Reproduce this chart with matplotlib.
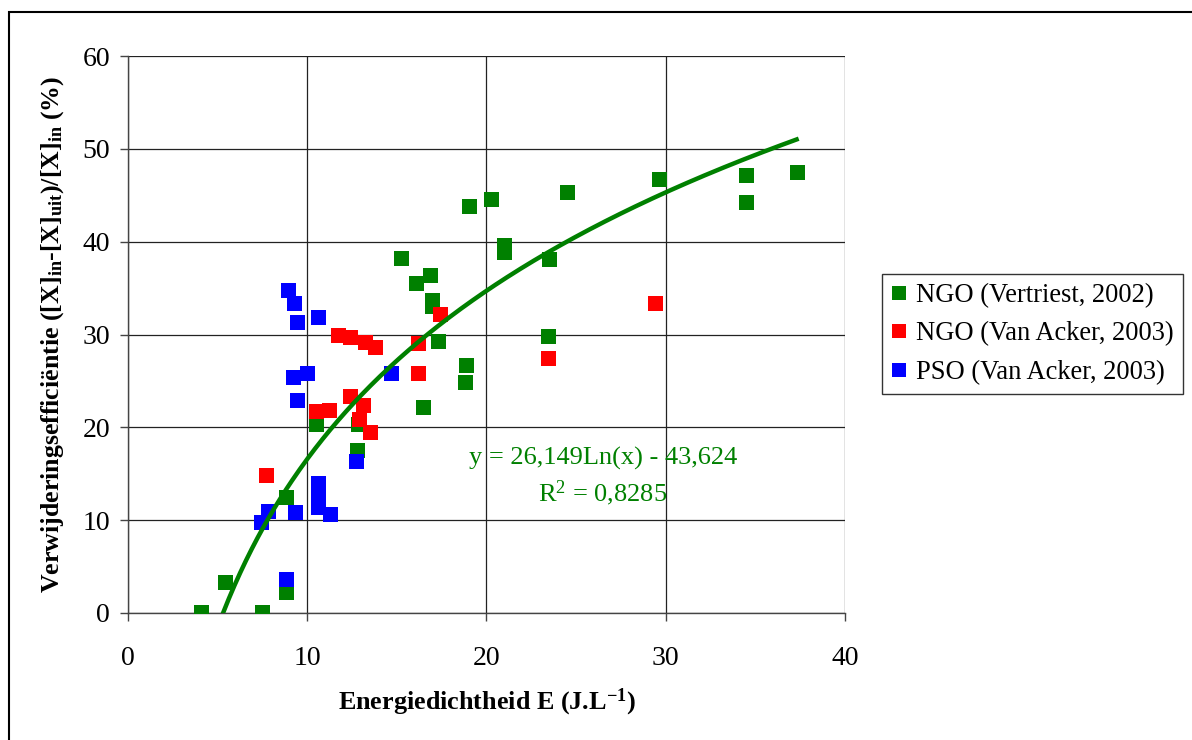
import numpy as np
import matplotlib
matplotlib.use("Agg")
import matplotlib.pyplot as plt
from matplotlib.patches import Rectangle

plt.rcParams['font.family'] = ['Liberation Serif', 'DejaVu Serif']
plt.rcParams['mathtext.fontset'] = 'custom'
plt.rcParams['mathtext.rm'] = 'Liberation Serif'
plt.rcParams['mathtext.bf'] = 'Liberation Serif:bold'
plt.rcParams['mathtext.it'] = 'Liberation Serif:italic'

# Data
green_x = [4.1, 5.4, 7.5, 8.8, 8.8, 10.5, 12.8, 12.85, 15.25, 16.05, 16.85, 16.95, 16.95, 17.3,
           16.45, 18.8, 18.85, 19.05, 20.25, 21.0, 21.0, 23.5, 23.45, 24.5, 29.6, 34.5, 34.5, 37.3]
green_y = [0.1, 3.3, 0.1, 12.5, 2.3, 20.4, 17.6, 20.4, 38.2, 35.5, 36.4, 33.7, 33.1, 29.3,
           22.2, 24.9, 26.7, 43.8, 44.6, 39.6, 38.9, 38.1, 29.8, 45.4, 46.8, 47.2, 44.3, 47.5]

red_x = [7.7, 10.5, 11.2, 11.7, 12.4, 13.2, 13.8, 12.4, 13.1, 12.9, 13.5, 16.2, 16.2, 17.4, 23.45, 29.4]
red_y = [14.9, 21.8, 21.9, 29.9, 29.7, 29.2, 28.6, 23.4, 22.4, 20.9, 19.5, 29.1, 25.9, 32.2, 27.5, 33.4]

blue_x = [8.9, 9.25, 9.45, 10.6, 9.2, 10.0, 9.45, 14.7, 12.7, 10.6, 10.6, 10.6, 10.6, 11.25, 9.3, 7.8, 7.4, 8.8]
blue_y = [34.8, 33.4, 31.3, 31.9, 25.4, 25.8, 22.9, 25.9, 16.4, 14.0, 13.2, 12.3, 11.4, 10.7, 10.9, 11.0, 9.8, 3.7]

labels = ["NGO (Vertriest, 2002)", "NGO (Van Acker, 2003)", "PSO (Van Acker, 2003)"]
colors = ["#008000", "#FF0000", "#0000FF"]

# Logarithmic trendline coefficients as shown on the chart
trend_a = 26.149
trend_b = -43.624
trend_xmin, trend_xmax = 5.3, 37.3

x_ticks = [0, 10, 20, 30, 40]
y_ticks = [0, 10, 20, 30, 40, 50, 60]

fig = plt.figure(figsize=(11.92, 7.40), dpi=100)
fig.patch.set_facecolor('white')
fig.patches.append(Rectangle((9/1192, -0.1), 1.2, (740-12)/740 + 0.1, transform=fig.transFigure,
                             fill=False, edgecolor='black', linewidth=1.5, zorder=0))

ax = fig.add_axes([128/1192, (740-613)/740, (845-128)/1192, (613-56)/740])

ms = 10.8
for xs, ys, c, lab, z in zip([green_x, red_x, blue_x], [green_y, red_y, blue_y], colors, labels, [3, 4, 5]):
    ax.plot(xs, ys, linestyle='none', marker='s', markersize=ms, color=c,
            markeredgecolor=c, markeredgewidth=0, label=lab, zorder=z)

tx = np.linspace(trend_xmin, trend_xmax, 300)
ax.plot(tx, trend_a*np.log(tx) + trend_b, color='#008000', linewidth=3.2, zorder=6)

ax.set_xlim(0, 40)
ax.set_ylim(0, 60)
ax.set_xticks(x_ticks)
ax.set_yticks(y_ticks)
ax.grid(True, color='#222222', linewidth=0.9)
ax.set_axisbelow(True)
for s in ['top', 'right']:
    ax.spines[s].set_visible(False)
for s in ['left', 'bottom']:
    ax.spines[s].set_color('#444444')
    ax.spines[s].set_linewidth(1.0)
ax.tick_params(axis='both', labelsize=20, direction='out', length=6, width=1, color='#444444')
ax.tick_params(axis='x', pad=18)
ax.tick_params(axis='y', pad=7)

ax.set_xlabel(r"Energiedichtheid E (J.L$^{\mathbf{-1}}$)", fontsize=18.8, fontweight='bold', labelpad=11)
ax.set_ylabel(r"Verwijderingsefficiëntie ([X]$_{\mathbf{in}}$-[X]$_{\mathbf{uit}}$)/[X]$_{\mathbf{in}}$ (%)",
              fontsize=18.6, fontweight='bold', labelpad=12)

ax.text(26.5, 16.6, "y = 26,149Ln(x) - 43,624", color='#008000', fontsize=19, ha='center', va='center', zorder=7)
ax.text(26.5, 12.9, r"R$^{2}$ = 0,8285", color='#008000', fontsize=19, ha='center', va='center', zorder=7)

leg = ax.legend(loc='upper left', bbox_to_anchor=(882/1192, (740-274)/740), bbox_transform=fig.transFigure,
                fontsize=19.1, frameon=True, fancybox=False, shadow=False, handlelength=0.6,
                handletextpad=0.35, borderpad=0.35, labelspacing=0.5, markerscale=0.9, borderaxespad=0)
leg.get_frame().set_edgecolor('black')
leg.get_frame().set_linewidth(1.0)

fig.savefig("out.png", dpi=100)
